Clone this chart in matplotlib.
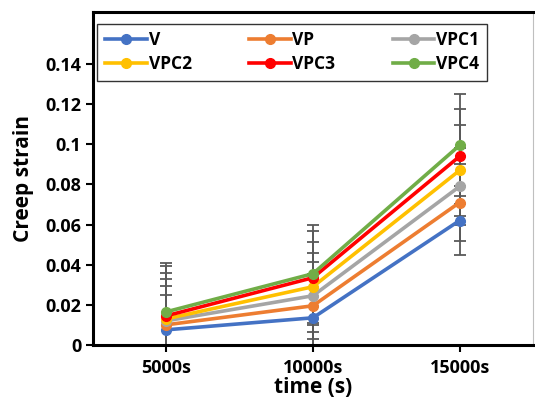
import numpy as np
import matplotlib.pyplot as plt

# data
times = ["5000s", "10000s", "15000s"]
series = ["V", "VP", "VPC1", "VPC2", "VPC3", "VPC4"]
colors = ["#4472C4", "#ED7D31", "#A5A5A5", "#FFC000", "#FF0000", "#70AD47"]

v_vals = [0.0075, 0.0135, 0.062]
vp_vals = [0.0100, 0.0195, 0.071]
vpc1_vals = [0.0120, 0.0245, 0.079]
vpc2_vals = [0.0130, 0.0290, 0.087]
vpc3_vals = [0.0145, 0.0335, 0.094]
vpc4_vals = [0.0165, 0.0355, 0.0995]

v_err = [0.0175, 0.022, 0.017]
vp_err = [0.0195, 0.022, 0.019]
vpc1_err = [0.021, 0.0215, 0.019]
vpc2_err = [0.023, 0.0225, 0.0225]
vpc3_err = [0.025, 0.0235, 0.0235]
vpc4_err = [0.0245, 0.0245, 0.0255]

values = [v_vals, vp_vals, vpc1_vals, vpc2_vals, vpc3_vals, vpc4_vals]
errors = [v_err, vp_err, vpc1_err, vpc2_err, vpc3_err, vpc4_err]

plt.rcParams['font.family'] = ['Open Sans', 'DejaVu Sans']
plt.rcParams['font.weight'] = 'bold'

fig = plt.figure(figsize=(5.35, 4.01), dpi=100)
ax = fig.add_axes([0.174, 0.140, 0.822, 0.830])

x = np.arange(len(times))
for vals, err in zip(values, errors):
    ax.errorbar(x, vals, yerr=err, fmt='none', ecolor='#595959',
                elinewidth=1.3, capsize=4, capthick=1.3, zorder=2)
handles = []
for name, vals, c in zip(series, values, colors):
    h, = ax.plot(x, vals, color=c, lw=2.6, marker='o', ms=7, label=name, zorder=3)
    handles.append(h)

ax.set_xlim(-0.5, 2.5)
ax.set_ylim(0, 0.166)
ax.set_xticks(x)
ax.set_xticklabels(times)
ax.set_yticks(np.arange(0, 0.141, 0.02))
ax.set_yticklabels(["0", "0.02", "0.04", "0.06", "0.08", "0.1", "0.12", "0.14"])
ax.tick_params(axis='both', labelsize=13, width=1.5, length=5, color='black')
ax.tick_params(axis='x', pad=5)
for lab in ax.get_xticklabels() + ax.get_yticklabels():
    lab.set_fontweight('bold')

for s in ['left', 'bottom', 'top']:
    ax.spines[s].set_linewidth(2.2)
    ax.spines[s].set_color('black')
ax.spines['right'].set_linewidth(0.8)
ax.spines['right'].set_color('#BFBFBF')

ax.set_xlabel("time (s)", fontsize=15, fontweight='bold', labelpad=0)
ax.set_ylabel("Creep strain", fontsize=15, fontweight='bold', labelpad=8)

# legend fills row by row like the original
order = [0, 3, 1, 4, 2, 5]
leg = ax.legend([handles[i] for i in order], [series[i] for i in order],
                ncol=3, loc='upper left', bbox_to_anchor=(0.01, 0.965),
                fontsize=12.5, frameon=True, fancybox=False, handlelength=2.4,
                columnspacing=3.3, handletextpad=0.1, borderpad=0.45,
                labelspacing=0.3, borderaxespad=0.0)
leg.get_frame().set_edgecolor('black')
leg.get_frame().set_linewidth(1.0)
for t in leg.get_texts():
    t.set_fontweight('bold')

fig.savefig("out.png", dpi=100)
